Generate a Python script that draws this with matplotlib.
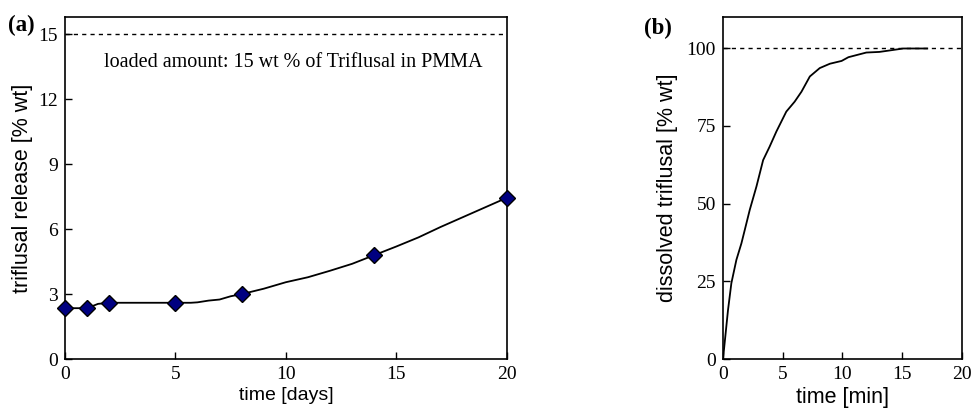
import matplotlib.pyplot as plt
import numpy as np

# panel (a): measured release points
days_pts = [0, 1, 2, 5, 8, 14, 20]
release_pts = [2.35, 2.35, 2.6, 2.6, 3.0, 4.8, 7.45]
# panel (a): fitted curve through the points
days_curve = [0, 1, 1.5, 2, 5, 5.7, 6, 6.5, 7, 7.5, 8, 9, 10, 11, 12, 13, 14, 15, 16, 17, 18, 19, 20]
release_curve = [2.35, 2.35, 2.55, 2.6, 2.6, 2.6, 2.62, 2.7, 2.75, 2.9, 3.0, 3.25, 3.55, 3.78,
                 4.08, 4.4, 4.8, 5.2, 5.62, 6.1, 6.55, 7.0, 7.45]
loaded = 15

# panel (b): dissolution curve
minutes = [0, 0.42, 0.7, 1.12, 1.54, 1.82, 2.24, 2.8, 3.36, 3.9, 4.47, 5.3, 6.0, 6.57, 7.27,
           8.1, 8.95, 9.93, 10.5, 12.0, 13.1, 15.1, 17.1]
dissolved = [0, 15.8, 24.4, 31.9, 37.2, 41.5, 48, 55.5, 64, 68.3, 73.2, 79.6, 82.8, 86, 90.9,
             93.6, 95, 95.9, 97.1, 98.6, 98.8, 99.9, 99.9]

xticks = [0, 5, 10, 15, 20]
yticks_a = [0, 3, 6, 9, 12, 15]
yticks_b = [0, 25, 50, 75, 100]

serif = 'Liberation Serif'
sans = 'Liberation Sans'
tick_fs = 14

fig = plt.figure(figsize=(9.71, 4.17), dpi=100)
ax1 = fig.add_axes([0.0669, 0.139, 0.455, 0.820])
ax2 = fig.add_axes([0.7446, 0.139, 0.246, 0.820])

for ax in (ax1, ax2):
    for s in ax.spines.values():
        s.set_linewidth(1.2)
    ax.tick_params(direction='in', length=5, width=1, top=False, right=False, pad=5)

# (a)
ax1.plot(days_curve, release_curve, color='black', lw=1.3, zorder=2)
ax1.plot(days_pts, release_pts, linestyle='none', marker='D', markersize=8.5,
         markerfacecolor='#000080', markeredgecolor='black', markeredgewidth=1, zorder=3,
         clip_on=False)
ax1.axhline(loaded, color='black', lw=1, linestyle=(0, (3, 3)))
ax1.set_xlim(0, 20)
ax1.set_ylim(0, 15.8)
ax1.set_xticks(xticks)
ax1.set_yticks(yticks_a)
ax1.set_xticklabels([str(t) for t in xticks], fontfamily=serif, fontsize=tick_fs)
ax1.set_yticklabels([str(t) for t in yticks_a], fontfamily=serif, fontsize=tick_fs)
ax1.set_xlabel('time [days]', fontfamily=sans, fontsize=14, labelpad=3)
ax1.set_ylabel('triflusal release [% wt]', fontfamily=sans, fontsize=15.5, labelpad=4)
ax1.text(0.517, 0.868, 'loaded amount: 15 wt % of Triflusal in PMMA', transform=ax1.transAxes,
         ha='center', va='center', fontfamily=serif, fontsize=14.5)
fig.text(0.008, 0.925, '(a)', fontfamily=serif, fontsize=16.5, fontweight='bold')

# (b)
ax2.plot(minutes, dissolved, color='black', lw=1.3)
ax2.axhline(100, color='black', lw=1, linestyle=(0, (3, 3)))
ax2.set_xlim(0, 20)
ax2.set_ylim(0, 110)
ax2.set_xticks(xticks)
ax2.set_yticks(yticks_b)
ax2.set_xticklabels([str(t) for t in xticks], fontfamily=serif, fontsize=tick_fs)
ax2.set_yticklabels([str(t) for t in yticks_b], fontfamily=serif, fontsize=tick_fs)
ax2.set_xlabel('time [min]', fontfamily=sans, fontsize=15.5, labelpad=3)
ax2.set_ylabel('dissolved triflusal [% wt]', fontfamily=sans, fontsize=15.5, labelpad=6)
fig.text(0.663, 0.918, '(b)', fontfamily=serif, fontsize=16.5, fontweight='bold')

fig.savefig('out.png', dpi=100)
